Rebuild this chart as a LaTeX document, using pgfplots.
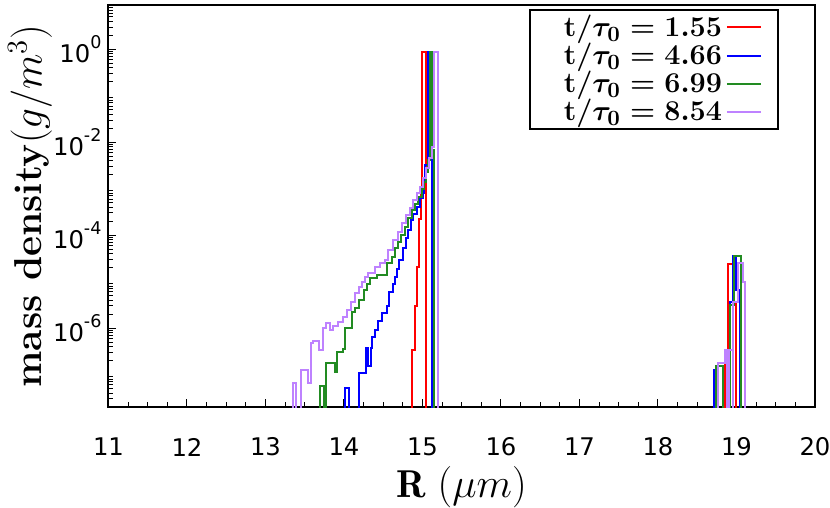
\documentclass[border=0pt]{standalone}
\usepackage{pgfplots}
\pgfplotsset{compat=1.18}
\usepackage{fontspec}
\newfontfamily\dejavu{DejaVu Sans}
\DeclareRobustCommand{\tenpow}[1]{10\raisebox{0.55em}{\fontsize{8.8}{9}\selectfont #1}}
\DeclareRobustCommand{\leg}[1]{\hspace*{7bp}{\boldmath$\mathbf{t}/\tau_0 = #1$}}
\definecolor{mplred}{RGB}{255,0,0}
\definecolor{mplblue}{RGB}{0,0,255}
\definecolor{mplgreen}{RGB}{34,139,34}
\definecolor{mplpurple}{RGB}{190,130,255}
\begin{document}
\begin{tikzpicture}
\begin{axis}[
  scale only axis, width=353.25bp, height=201bp,
  at={(0,0)}, anchor=south west,
  xmin=11, xmax=20, ymode=log, ymin=2e-8, ymax=9,
  xtick={11,12,13,14,15,16,17,18,19,20},
  xticklabels={11,12,13,14,15,16,17,18,19,20},
  minor x tick num=3,
  ytick={1e-6,1e-4,1e-2,1},
  yticklabels={\tenpow{-6},\tenpow{-4},\tenpow{-2},\tenpow{0}},
  minor ytick={2e-8,3e-8,4e-8,5e-8,6e-8,7e-8,8e-8,9e-8,
    2e-7,3e-7,4e-7,5e-7,6e-7,7e-7,8e-7,9e-7,
    2e-6,3e-6,4e-6,5e-6,6e-6,7e-6,8e-6,9e-6,
    2e-5,3e-5,4e-5,5e-5,6e-5,7e-5,8e-5,9e-5,
    2e-4,3e-4,4e-4,5e-4,6e-4,7e-4,8e-4,9e-4,
    2e-3,3e-3,4e-3,5e-3,6e-3,7e-3,8e-3,9e-3,
    2e-2,3e-2,4e-2,5e-2,6e-2,7e-2,8e-2,9e-2,
    2e-1,3e-1,4e-1,5e-1,6e-1,7e-1,8e-1,9e-1,
    2,3,4,5,6,7,8},
  xtick pos=bottom, ytick pos=left,
  tick label style={font=\dejavu\fontsize{12.2}{14}\selectfont},
  xticklabel style={anchor=center, yshift=-20bp},
  major tick length=4bp, minor tick length=2.5bp,
  axis line style={line width=1bp},
  tick style={black, line width=0.5bp},
  xlabel={$\mathbf{R}\;(\mu m)$},
  ylabel={\textbf{mass density}$(g/m^3)$},
  label style={font=\fontsize{19.5}{22}\selectfont},
  xlabel style={at={(axis description cs:0.5,-0.199)}, anchor=center},
  ylabel style={at={(axis description cs:-0.111,0.5)}, anchor=center},
  legend plot pos=right,
  legend cell align=right,
  legend style={at={(0.949,0.9895)}, anchor=north east, draw=black, line width=1bp,
    font=\fontsize{15}{15}\selectfont, inner xsep=8bp, inner ysep=0.5bp, row sep=-2.2bp},
]
\addplot[mplred, line width=1bp, const plot, mark=none] coordinates {
(14.0,1e-12) (14.860,3.4e-7) (14.902,3.0e-6) (14.927,2.1e-5) (14.959,2.2e-4)
(14.978,1.0e-3) (14.995,0.88) (15.048,1e-12)
(18.855,3.4e-7) (18.887,2.4e-5) (18.95,3.7e-6) (18.99,1e-12) (19.5,1e-12)
};
\addlegendentry{\leg{1.55}}
\addplot[mplblue, line width=1bp, const plot, mark=none] coordinates {
(13.9,1e-12) (14.014,5.2e-8) (14.061,1e-12) (14.193,1.06e-7) (14.278,3.8e-7)
(14.304,1.5e-7) (14.338,3.8e-7) (14.362,6.5e-7) (14.393,9.0e-7) (14.435,1.43e-6)
(14.478,2.07e-6) (14.542,3.0e-6) (14.571,5.9e-6) (14.619,9.1e-6) (14.648,1.27e-5)
(14.677,1.9e-5) (14.703,2.9e-5) (14.754,5.2e-5) (14.788,8.5e-5) (14.818,1.28e-4)
(14.852,2.1e-4) (14.881,2.9e-4) (14.925,4.1e-4) (14.967,6.2e-4) (15.001,7.9e-4)
(15.018,1.7e-3) (15.037,3.2e-3) (15.065,0.88) (15.101,4.8e-3) (15.120,1e-12)
(18.708,1.25e-7) (18.753,1e-12) (18.92,3.7e-6) (18.95,3.5e-5) (18.994,6.6e-6)
(19.04,1e-12) (19.5,1e-12)
};
\addlegendentry{\leg{4.66}}
\addplot[mplgreen, line width=1bp, const plot, mark=none] coordinates {
(13.6,1e-12) (13.700,5.7e-8) (13.746,1e-12) (13.768,1.8e-7) (13.883,1.16e-7)
(13.912,3.05e-7) (13.989,3.5e-7) (14.010,9.9e-7) (14.096,2.2e-6) (14.138,2.7e-6)
(14.193,4.0e-6) (14.253,6.6e-6) (14.295,9.1e-6) (14.329,1.17e-5) (14.415,1.38e-5)
(14.550,2.46e-5) (14.606,3.4e-5) (14.648,5.2e-5) (14.690,7.2e-5) (14.724,1.0e-4)
(14.776,1.5e-4) (14.818,2.3e-4) (14.861,3.45e-4) (14.903,4.8e-4) (14.945,6.7e-4)
(14.989,1.0e-3) (15.022,1.4e-3) (15.050,2.3e-3) (15.076,4.1e-3) (15.094,0.88)
(15.120,6.7e-3) (15.145,1e-12)
(18.74,1.5e-7) (18.83,1e-12) (18.92,3.2e-6) (18.963,3.5e-5) (19.055,1e-12) (19.5,1e-12)
};
\addlegendentry{\leg{6.99}}
\addplot[mplpurple, line width=1bp, const plot, mark=none] coordinates {
(13.2,1e-12) (13.351,6.5e-8) (13.394,1e-12) (13.458,1.25e-7) (13.542,6.5e-8)
(13.585,4.7e-7) (13.608,5.3e-7) (13.682,3.4e-7) (13.733,9.9e-7) (13.777,1.3e-6)
(13.819,9.0e-7) (13.861,1.1e-6) (13.925,1.37e-6) (13.989,1.75e-6) (14.032,2.4e-6)
(14.083,3.7e-6) (14.138,5.6e-6) (14.193,7.7e-6) (14.223,9.9e-6) (14.265,1.27e-5)
(14.307,1.55e-5) (14.393,2.1e-5) (14.457,2.46e-5) (14.520,2.9e-5) (14.562,4.75e-5)
(14.626,7.8e-5) (14.690,1.18e-4) (14.733,1.8e-4) (14.788,2.7e-4) (14.839,3.9e-4)
(14.881,5.7e-4) (14.925,7.9e-4) (14.967,1.1e-3) (15.009,1.7e-3) (15.043,2.8e-3)
(15.082,4.5e-3) (15.120,7.8e-3) (15.152,0.88) (15.193,1e-12)
(18.77,1.75e-7) (18.855,3.4e-7) (18.885,1e-12) (18.90,3.4e-7) (18.95,1e-12)
(18.96,3.7e-6) (19.015,2.5e-5) (19.083,9.9e-6) (19.11,1e-12) (19.5,1e-12)
};
\addlegendentry{\leg{8.54}}
\end{axis}
\pgfresetboundingbox
\useasboundingbox (-54.25bp,-50.5bp) rectangle (360.75bp,203.5bp);
\end{tikzpicture}
\end{document}
